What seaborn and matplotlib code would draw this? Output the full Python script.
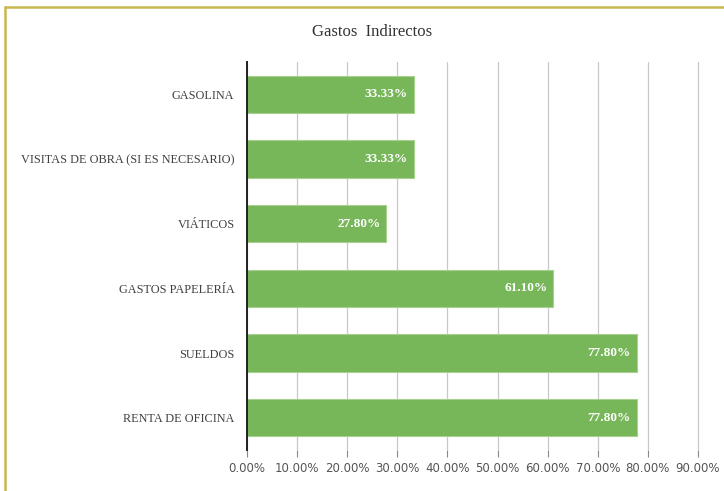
import matplotlib
matplotlib.use("Agg")
import matplotlib.pyplot as plt
import seaborn as sns
import pandas as pd
from matplotlib.lines import Line2D

categories = ["GASOLINA", "VISITAS DE OBRA (SI ES NECESARIO)", "VIÁTICOS",
              "GASTOS PAPELERÍA", "SUELDOS", "RENTA DE OFICINA"]
values = [33.33, 33.33, 27.80, 61.10, 77.80, 77.80]
xticks = [0, 10, 20, 30, 40, 50, 60, 70, 80, 90]

df = pd.DataFrame({"cat": categories, "val": values})

sns.set_theme(style="white")
plt.rcParams['font.family'] = ['Liberation Serif', 'DejaVu Serif']

W, H = 724, 491
fig = plt.figure(figsize=(W / 100, H / 100), dpi=100)
ax = fig.add_axes([247 / W, 1 - 450 / H, (700 - 247) / W, (450 - 62) / H])

sns.barplot(data=df, x="val", y="cat", orient="h", color="#78b65a",
            width=0.58, edgecolor="#a8d08f", linewidth=0.8, saturation=1, ax=ax, zorder=3)

ax.set_xlim(0, 90.4)
ax.set_ylim(5.5, -0.5)
ax.set_xticks(xticks)
ax.set_xticklabels([f"{t:.2f}%" for t in xticks], fontsize=8.5, color="#555555",
                   family=["DejaVu Sans"])
ax.tick_params(axis="x", length=5, color="#888888", width=0.8, pad=4, direction="out", bottom=True)
ax.tick_params(axis="y", length=0, pad=9, labelsize=8.8, labelcolor="#404040")
for lbl in ax.get_yticklabels():
    lbl.set_family(["Liberation Serif"])
ax.grid(axis="x", color="#c8c8c8", linewidth=0.9, zorder=0)
ax.set_axisbelow(True)
ax.set_xlabel("")
ax.set_ylabel("")
for s in ["top", "right", "bottom"]:
    ax.spines[s].set_visible(False)
ax.spines["left"].set_color("#202020")
ax.spines["left"].set_linewidth(1.4)
ax.spines["left"].set_zorder(5)

for i, v in enumerate(values):
    ax.text(v - 1.2, i, f"{v:.2f}%", ha="right", va="center", color="white",
            fontsize=9.5, fontweight="bold", zorder=6)

fig.text(372 / W, 1 - 32 / H, "Gastos  Indirectos", ha="center", va="center",
         fontsize=12, color="#333333")

border = "#c9b74f"
fig.add_artist(Line2D([5 / W, 5 / W], [0, 1 - 7 / H], color=border, lw=1.8, transform=fig.transFigure))
fig.add_artist(Line2D([5 / W, 1], [1 - 7 / H, 1 - 7 / H], color=border, lw=1.8, transform=fig.transFigure))

fig.savefig("out.png", dpi=100, facecolor="white")
